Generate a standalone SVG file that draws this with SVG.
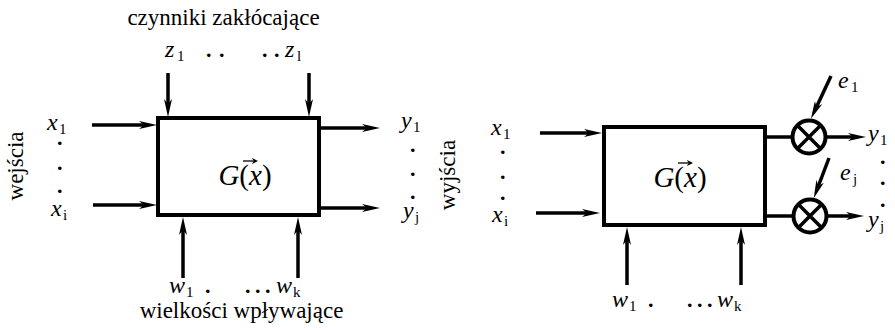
<svg xmlns="http://www.w3.org/2000/svg" width="895" height="330" viewBox="0 0 895 330" font-family="Liberation Serif, serif">
<style>
.t{font-size:23px}
.v{font-size:24px;font-style:italic}
.s{font-size:15px}
.d{font-size:22px;font-weight:bold}
.g{font-size:29px}
.box{fill:#fff;stroke:#000;stroke-width:4}
.ln{stroke:#000;stroke-width:3.5;fill:none}
.ar{stroke:#000;stroke-width:3.5;fill:none;marker-end:url(#ah)}
.vec{stroke:#000;stroke-width:1.3;fill:none;marker-end:url(#vh)}
.sum{fill:#fff;stroke:#000;stroke-width:4}
</style>
<defs>
<marker id="ah" viewBox="0 0 18 8" refX="6" refY="4" markerWidth="18" markerHeight="8" markerUnits="userSpaceOnUse" orient="auto">
<path d="M0,0 L18,4 L0,8 L5,4 z" fill="#000"/>
</marker>
<marker id="vh" viewBox="0 0 6 6" refX="1" refY="3" markerWidth="6" markerHeight="6" markerUnits="userSpaceOnUse" orient="auto">
<path d="M0,0 L6,3 L0,6 L1.5,3 z" fill="#000"/>
</marker>
</defs>

<g id="connectors">
<line class="ar" x1="92" y1="125" x2="145" y2="125"/>
<line class="ar" x1="93" y1="205" x2="145" y2="205"/>
<line class="ar" x1="320" y1="128" x2="368" y2="128"/>
<line class="ar" x1="320" y1="208" x2="368" y2="208"/>
<line class="ar" x1="168" y1="73" x2="168" y2="105"/>
<line class="ar" x1="309" y1="73" x2="309" y2="105"/>
<line class="ar" x1="183" y1="278" x2="183" y2="229"/>
<line class="ar" x1="298" y1="278" x2="298" y2="229"/>
<line class="ar" x1="540" y1="133" x2="590" y2="133"/>
<line class="ar" x1="536" y1="213" x2="588" y2="213"/>
<line class="ar" x1="627" y1="285" x2="627" y2="239"/>
<line class="ar" x1="741" y1="285" x2="741" y2="239"/>
<line class="ln" x1="765" y1="137" x2="792" y2="137"/>
<line class="ln" x1="765" y1="216" x2="793" y2="216"/>
<line class="ar" x1="826" y1="137" x2="854" y2="137"/>
<line class="ar" x1="827" y1="216" x2="852" y2="216"/>
<line class="ar" x1="831" y1="76" x2="816" y2="108"/>
<line class="ar" x1="829" y1="158" x2="818" y2="187"/>
</g>

<g id="block-left">
<rect class="box" x="158" y="118" width="161" height="97"/>
<text class="g" x="245" y="185" text-anchor="middle"><tspan font-style="italic">G</tspan>(<tspan font-style="italic">x</tspan>)</text>
<line class="vec" x1="243" y1="161" x2="253" y2="161"/>
</g>

<g id="block-right">
<rect class="box" x="604" y="127" width="161" height="98"/>
<text class="g" x="680" y="187" text-anchor="middle"><tspan font-style="italic">G</tspan>(<tspan font-style="italic">x</tspan>)</text>
<line class="vec" x1="678" y1="163" x2="688" y2="163"/>
</g>

<g id="sum1">
<circle class="sum" cx="809" cy="137" r="16.5"/>
<path class="ln" d="M797.3,125.3 L820.7,148.7 M820.7,125.3 L797.3,148.7"/>
</g>
<g id="sum2">
<circle class="sum" cx="810" cy="216" r="16.5"/>
<path class="ln" d="M798.3,204.3 L821.7,227.7 M821.7,204.3 L798.3,227.7"/>
</g>

<g id="labels-left">
<text class="t" x="223.5" y="25" text-anchor="middle">czynniki zakłócające</text>
<text class="v" x="165" y="57">z</text><text class="s" x="177" y="61">1</text>
<text class="d" x="206" y="57">.</text><text class="d" x="219" y="57">.</text>
<text class="d" x="262" y="57">.</text><text class="d" x="274" y="57">.</text>
<text class="v" x="285" y="57">z</text><text class="s" x="297" y="61">l</text>

<text class="v" x="47" y="130">x</text><text class="s" x="59" y="134">1</text>
<text class="d" x="57" y="145">.</text><text class="d" x="57" y="170">.</text><text class="d" x="57" y="193">.</text>
<text class="v" x="51" y="216">x</text><text class="s" x="63" y="220">i</text>
<text class="t" transform="translate(23,166) rotate(-90)" text-anchor="middle">wejścia</text>

<text class="v" x="401" y="128">y</text><text class="s" x="413" y="132">1</text>
<text class="d" x="410" y="152">.</text><text class="d" x="410" y="176">.</text><text class="d" x="410" y="199">.</text>
<text class="v" x="403" y="218">y</text><text class="s" x="415" y="222">j</text>
<text class="t" transform="translate(455,175) rotate(-90)" text-anchor="middle">wyjścia</text>

<text class="v" x="169" y="293">w</text><text class="s" x="186" y="297">1</text>
<text class="d" x="205" y="293">.</text>
<text class="d" x="245" y="293">.</text><text class="d" x="255" y="293">.</text><text class="d" x="265" y="293">.</text>
<text class="v" x="276" y="293">w</text><text class="s" x="293" y="297">k</text>
<text class="t" x="241.5" y="318" text-anchor="middle">wielkości wpływające</text>
</g>

<g id="labels-right">
<text class="v" x="491" y="135">x</text><text class="s" x="503" y="139">1</text>
<text class="d" x="500" y="154">.</text><text class="d" x="500" y="179">.</text><text class="d" x="500" y="200">.</text>
<text class="v" x="492" y="222">x</text><text class="s" x="504" y="226">i</text>

<text class="v" x="612" y="307">w</text><text class="s" x="629" y="311">1</text>
<text class="d" x="648" y="307">.</text>
<text class="d" x="687" y="307">.</text><text class="d" x="697" y="307">.</text><text class="d" x="707" y="307">.</text>
<text class="v" x="717" y="307">w</text><text class="s" x="734" y="311">k</text>

<text class="v" x="838" y="88">e</text><text class="s" x="851" y="92">1</text>
<text class="v" x="840" y="180">e</text><text class="s" x="853" y="184">j</text>
<text class="v" x="868" y="141">y</text><text class="s" x="880" y="145">1</text>
<text class="d" x="880" y="164">.</text><text class="d" x="880" y="185">.</text><text class="d" x="880" y="207">.</text>
<text class="v" x="868" y="227">y</text><text class="s" x="880" y="231">j</text>
</g>
</svg>
